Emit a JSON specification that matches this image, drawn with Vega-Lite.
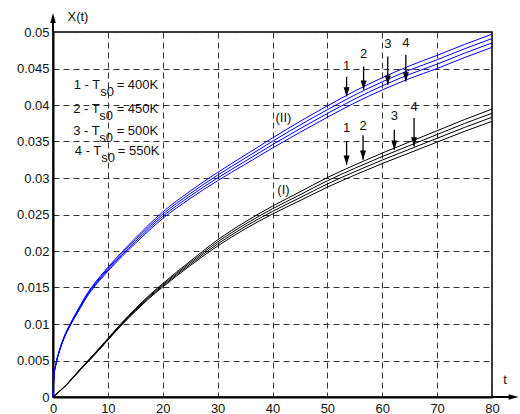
{
  "$schema": "https://vega.github.io/schema/vega-lite/v6.json",
  "width": 439,
  "height": 365,
  "autosize": {"type": "none"},
  "padding": {"left": 53, "top": 32, "right": 28, "bottom": 17},
  "background": "white",
  "config": {
    "view": {"stroke": "black", "strokeWidth": 1.5},
    "font": "Liberation Sans",
    "text": {"font": "Liberation Sans", "fontSize": 13, "color": "#111"},
    "axis": {
      "grid": true, "gridDash": [6, 4], "gridColor": "#333", "gridWidth": 1, "gridOpacity": 1,
      "domainColor": "black", "domainWidth": 2, "ticks": false,
      "labelFont": "Liberation Sans", "labelFontSize": 13, "labelColor": "#111",
      "labelFlush": false, "labelOverlap": false
    },
    "axisX": {"labelPadding": 5},
    "axisY": {"labelPadding": 4}
  },
  "datasets": {
    "blue": [
      {"t": 0, "s1": 0, "s2": 0, "s3": 0, "s4": 0},
      {"t": 0.2, "s1": 0.00297, "s2": 0.00299, "s3": 0.00301, "s4": 0.00303},
      {"t": 0.5, "s1": 0.00436, "s2": 0.00439, "s3": 0.00442, "s4": 0.00445},
      {"t": 1, "s1": 0.00583, "s2": 0.00588, "s3": 0.00593, "s4": 0.00598},
      {"t": 1.5, "s1": 0.00701, "s2": 0.00707, "s3": 0.00713, "s4": 0.00719},
      {"t": 2, "s1": 0.0080, "s2": 0.00807, "s3": 0.00814, "s4": 0.00821},
      {"t": 3, "s1": 0.00957, "s2": 0.00966, "s3": 0.00975, "s4": 0.00984},
      {"t": 4, "s1": 0.01095, "s2": 0.01105, "s3": 0.01115, "s4": 0.01125},
      {"t": 5, "s1": 0.01222, "s2": 0.01234, "s3": 0.01246, "s4": 0.01258},
      {"t": 6, "s1": 0.01351, "s2": 0.01364, "s3": 0.01377, "s4": 0.0139},
      {"t": 7, "s1": 0.01459, "s2": 0.01473, "s3": 0.01487, "s4": 0.01501},
      {"t": 8.5, "s1": 0.01596, "s2": 0.01612, "s3": 0.01628, "s4": 0.01644},
      {"t": 10, "s1": 0.01723, "s2": 0.01741, "s3": 0.01759, "s4": 0.01777},
      {"t": 12.5, "s1": 0.01919, "s2": 0.0194, "s3": 0.01961, "s4": 0.01982},
      {"t": 15, "s1": 0.02104, "s2": 0.02128, "s3": 0.02152, "s4": 0.02176},
      {"t": 20, "s1": 0.02445, "s2": 0.02475, "s3": 0.02505, "s4": 0.02535},
      {"t": 25, "s1": 0.02719, "s2": 0.02753, "s3": 0.02787, "s4": 0.02821},
      {"t": 30, "s1": 0.02963, "s2": 0.03001, "s3": 0.03039, "s4": 0.03077},
      {"t": 35, "s1": 0.03187, "s2": 0.03229, "s3": 0.03271, "s4": 0.03313},
      {"t": 40, "s1": 0.03411, "s2": 0.03457, "s3": 0.03503, "s4": 0.03549},
      {"t": 45, "s1": 0.03625, "s2": 0.03675, "s3": 0.03725, "s4": 0.03775},
      {"t": 50, "s1": 0.03832, "s2": 0.03884, "s3": 0.03936, "s4": 0.03988},
      {"t": 55, "s1": 0.04029, "s2": 0.04083, "s3": 0.04137, "s4": 0.04191},
      {"t": 60, "s1": 0.04206, "s2": 0.04262, "s3": 0.04318, "s4": 0.04374},
      {"t": 65, "s1": 0.04363, "s2": 0.04421, "s3": 0.04479, "s4": 0.04537},
      {"t": 70, "s1": 0.045, "s2": 0.0456, "s3": 0.0462, "s4": 0.0468},
      {"t": 75, "s1": 0.0465, "s2": 0.0471, "s3": 0.0477, "s4": 0.0483},
      {"t": 80, "s1": 0.0479, "s2": 0.0485, "s3": 0.0491, "s4": 0.0497}
    ],
    "black": [
      {"t": 0, "s1": 0, "s2": 0, "s3": 0, "s4": 0},
      {"t": 2.5, "s1": 0.00166, "s2": 0.00169, "s3": 0.00172, "s4": 0.00175},
      {"t": 5, "s1": 0.00373, "s2": 0.00378, "s3": 0.00383, "s4": 0.00388},
      {"t": 7.5, "s1": 0.0057, "s2": 0.00577, "s3": 0.00584, "s4": 0.00591},
      {"t": 10, "s1": 0.00778, "s2": 0.00786, "s3": 0.00794, "s4": 0.00802},
      {"t": 12.5, "s1": 0.00985, "s2": 0.00995, "s3": 0.01005, "s4": 0.01015},
      {"t": 15, "s1": 0.01172, "s2": 0.01184, "s3": 0.01196, "s4": 0.01208},
      {"t": 17.5, "s1": 0.01349, "s2": 0.01363, "s3": 0.01377, "s4": 0.01391},
      {"t": 20, "s1": 0.01506, "s2": 0.01522, "s3": 0.01538, "s4": 0.01554},
      {"t": 25, "s1": 0.018, "s2": 0.0182, "s3": 0.0184, "s4": 0.0186},
      {"t": 30, "s1": 0.02068, "s2": 0.02096, "s3": 0.02124, "s4": 0.02152},
      {"t": 35, "s1": 0.02302, "s2": 0.02334, "s3": 0.02366, "s4": 0.02398},
      {"t": 40, "s1": 0.02506, "s2": 0.02542, "s3": 0.02578, "s4": 0.02614},
      {"t": 45, "s1": 0.0269, "s2": 0.0273, "s3": 0.0277, "s4": 0.0281},
      {"t": 50, "s1": 0.02874, "s2": 0.02918, "s3": 0.02962, "s4": 0.03006},
      {"t": 55, "s1": 0.03041, "s2": 0.03087, "s3": 0.03133, "s4": 0.03179},
      {"t": 60, "s1": 0.03198, "s2": 0.03246, "s3": 0.03294, "s4": 0.03342},
      {"t": 65, "s1": 0.03345, "s2": 0.03395, "s3": 0.03445, "s4": 0.03495},
      {"t": 70, "s1": 0.03492, "s2": 0.03544, "s3": 0.03596, "s4": 0.03648},
      {"t": 75, "s1": 0.03639, "s2": 0.03693, "s3": 0.03747, "s4": 0.03801},
      {"t": 80, "s1": 0.03776, "s2": 0.03832, "s3": 0.03888, "s4": 0.03944}
    ],
    "arrows": [
      {"t": 53.5, "top": 0.04384, "tip": 0.04118, "lab": 0.04529, "n": "1"},
      {"t": 56.6, "top": 0.04529, "tip": 0.04209, "lab": 0.04699, "n": "2"},
      {"t": 61.0, "top": 0.04666, "tip": 0.04278, "lab": 0.04836, "n": "3"},
      {"t": 64.3, "top": 0.04689, "tip": 0.04323, "lab": 0.04849, "n": "4"},
      {"t": 53.5, "top": 0.03501, "tip": 0.03182, "lab": 0.03689, "n": "1"},
      {"t": 56.5, "top": 0.03584, "tip": 0.03251, "lab": 0.03707, "n": "2"},
      {"t": 62.2, "top": 0.03662, "tip": 0.03388, "lab": 0.03844, "n": "3"},
      {"t": 65.8, "top": 0.03822, "tip": 0.03433, "lab": 0.03973, "n": "4"}
    ],
    "legend": [
      {"t1": 8.6, "t2": 8.6, "t3": 11.6, "v": 0.04278, "a": "1 - T", "b": "s0", "c": "= 400K"},
      {"t1": 8.5, "t2": 8.45, "t3": 11.6, "v": 0.03945, "a": "2 - T", "b": "s0", "c": "= 450K"},
      {"t1": 8.5, "t2": 8.45, "t3": 11.6, "v": 0.03648, "a": "3 - T", "b": "s0", "c": "= 500K"},
      {"t1": 8.8, "t2": 8.8, "t3": 11.8, "v": 0.03364, "a": "4 - T", "b": "s0", "c": "= 550K"}
    ]
  },
  "layer": [
    {
      "data": {"name": "blue"},
      "transform": [{"fold": ["s1", "s2", "s3", "s4"], "as": ["k", "v"]}],
      "mark": {"type": "line", "color": "#0000ff", "strokeWidth": 1, "interpolate": "monotone"},
      "encoding": {
        "x": {"field": "t", "type": "quantitative", "scale": {"domain": [0, 80], "nice": false, "zero": false},
              "axis": {"title": null, "values": [0, 10, 20, 30, 40, 50, 60, 70, 80]}},
        "y": {"field": "v", "type": "quantitative", "scale": {"domain": [0, 0.05], "nice": false, "zero": false},
              "axis": {"title": null, "format": "~g", "values": [0, 0.005, 0.01, 0.015, 0.02, 0.025, 0.03, 0.035, 0.04, 0.045, 0.05]}},
        "detail": {"field": "k"}
      }
    },
    {
      "data": {"name": "black"},
      "transform": [{"fold": ["s1", "s2", "s3", "s4"], "as": ["k", "v"]}],
      "mark": {"type": "line", "color": "#000000", "strokeWidth": 1, "interpolate": "monotone"},
      "encoding": {
        "x": {"field": "t", "type": "quantitative", "axis": {"title": null, "values": [0, 10, 20, 30, 40, 50, 60, 70, 80]}},
        "y": {"field": "v", "type": "quantitative", "axis": {"title": null, "format": "~g", "values": [0, 0.005, 0.01, 0.015, 0.02, 0.025, 0.03, 0.035, 0.04, 0.045, 0.05]}},
        "detail": {"field": "k"}
      }
    },
    {
      "data": {"name": "arrows"},
      "mark": {"type": "rule", "color": "black", "strokeWidth": 1.3},
      "encoding": {
        "x": {"field": "t", "type": "quantitative", "axis": {"title": null, "values": [0, 10, 20, 30, 40, 50, 60, 70, 80]}},
        "y": {"field": "top", "type": "quantitative", "axis": {"title": null, "format": "~g", "values": [0, 0.005, 0.01, 0.015, 0.02, 0.025, 0.03, 0.035, 0.04, 0.045, 0.05]}},
        "y2": {"field": "tip"}
      }
    },
    {
      "data": {"name": "arrows"},
      "mark": {"type": "point", "shape": "M0,0L-0.75,-2.3L0.75,-2.3Z", "size": 64, "filled": true, "color": "black", "opacity": 1},
      "encoding": {
        "x": {"field": "t", "type": "quantitative", "axis": {"title": null, "values": [0, 10, 20, 30, 40, 50, 60, 70, 80]}},
        "y": {"field": "tip", "type": "quantitative", "axis": {"title": null, "format": "~g", "values": [0, 0.005, 0.01, 0.015, 0.02, 0.025, 0.03, 0.035, 0.04, 0.045, 0.05]}}
      }
    },
    {
      "data": {"name": "arrows"},
      "mark": {"type": "text", "baseline": "middle", "align": "center"},
      "encoding": {
        "x": {"field": "t", "type": "quantitative", "axis": {"title": null, "values": [0, 10, 20, 30, 40, 50, 60, 70, 80]}},
        "y": {"field": "lab", "type": "quantitative", "axis": {"title": null, "format": "~g", "values": [0, 0.005, 0.01, 0.015, 0.02, 0.025, 0.03, 0.035, 0.04, 0.045, 0.05]}},
        "text": {"field": "n"}
      }
    },
    {
      "data": {"name": "legend"},
      "mark": {"type": "text", "baseline": "middle", "align": "right"},
      "encoding": {
        "x": {"field": "t1", "type": "quantitative", "axis": {"title": null, "values": [0, 10, 20, 30, 40, 50, 60, 70, 80]}},
        "y": {"field": "v", "type": "quantitative", "axis": {"title": null, "format": "~g", "values": [0, 0.005, 0.01, 0.015, 0.02, 0.025, 0.03, 0.035, 0.04, 0.045, 0.05]}},
        "text": {"field": "a"}
      }
    },
    {
      "data": {"name": "legend"},
      "mark": {"type": "text", "baseline": "middle", "align": "left", "dy": 7},
      "encoding": {
        "x": {"field": "t2", "type": "quantitative", "axis": {"title": null, "values": [0, 10, 20, 30, 40, 50, 60, 70, 80]}},
        "y": {"field": "v", "type": "quantitative", "axis": {"title": null, "format": "~g", "values": [0, 0.005, 0.01, 0.015, 0.02, 0.025, 0.03, 0.035, 0.04, 0.045, 0.05]}},
        "text": {"field": "b"}
      }
    },
    {
      "data": {"name": "legend"},
      "mark": {"type": "text", "baseline": "middle", "align": "left"},
      "encoding": {
        "x": {"field": "t3", "type": "quantitative", "axis": {"title": null, "values": [0, 10, 20, 30, 40, 50, 60, 70, 80]}},
        "y": {"field": "v", "type": "quantitative", "axis": {"title": null, "format": "~g", "values": [0, 0.005, 0.01, 0.015, 0.02, 0.025, 0.03, 0.035, 0.04, 0.045, 0.05]}},
        "text": {"field": "c"}
      }
    },
    {
      "data": {"values": [
        {"t": 42, "v": 0.03822, "s": "(II)"},
        {"t": 42, "v": 0.0284, "s": "(I)"},
        {"t": 4.55, "v": 0.0521, "s": "X(t)"},
        {"t": 82.4, "v": 0.00237, "s": "t"}
      ]},
      "mark": {"type": "text", "baseline": "middle", "align": "center"},
      "encoding": {
        "x": {"field": "t", "type": "quantitative", "axis": {"title": null, "values": [0, 10, 20, 30, 40, 50, 60, 70, 80]}},
        "y": {"field": "v", "type": "quantitative", "axis": {"title": null, "format": "~g", "values": [0, 0.005, 0.01, 0.015, 0.02, 0.025, 0.03, 0.035, 0.04, 0.045, 0.05]}},
        "text": {"field": "s"}
      }
    },
    {
      "data": {"values": [{"t": 0, "v": 0.05, "v2": 0.0522}]},
      "mark": {"type": "rule", "color": "black", "strokeWidth": 2},
      "encoding": {
        "x": {"field": "t", "type": "quantitative", "axis": {"title": null, "values": [0, 10, 20, 30, 40, 50, 60, 70, 80]}},
        "y": {"field": "v", "type": "quantitative", "axis": {"title": null, "format": "~g", "values": [0, 0.005, 0.01, 0.015, 0.02, 0.025, 0.03, 0.035, 0.04, 0.045, 0.05]}},
        "y2": {"field": "v2"}
      }
    },
    {
      "data": {"values": [{"t": 80, "t2": 84.2, "v": 0}]},
      "mark": {"type": "rule", "color": "black", "strokeWidth": 2},
      "encoding": {
        "x": {"field": "t", "type": "quantitative", "axis": {"title": null, "values": [0, 10, 20, 30, 40, 50, 60, 70, 80]}},
        "x2": {"field": "t2"},
        "y": {"field": "v", "type": "quantitative", "axis": {"title": null, "format": "~g", "values": [0, 0.005, 0.01, 0.015, 0.02, 0.025, 0.03, 0.035, 0.04, 0.045, 0.05]}}
      }
    },
    {
      "data": {"values": [{"t": 0, "v": 0.0526}]},
      "mark": {"type": "point", "shape": "M0,0L-0.7,2.5L0.7,2.5Z", "size": 64, "filled": true, "color": "black", "opacity": 1},
      "encoding": {
        "x": {"field": "t", "type": "quantitative", "axis": {"title": null, "values": [0, 10, 20, 30, 40, 50, 60, 70, 80]}},
        "y": {"field": "v", "type": "quantitative", "axis": {"title": null, "format": "~g", "values": [0, 0.005, 0.01, 0.015, 0.02, 0.025, 0.03, 0.035, 0.04, 0.045, 0.05]}}
      }
    },
    {
      "data": {"values": [{"t": 84.85, "v": 0}]},
      "mark": {"type": "point", "shape": "M0,0L-2.5,-0.7L-2.5,0.7Z", "size": 64, "filled": true, "color": "black", "opacity": 1},
      "encoding": {
        "x": {"field": "t", "type": "quantitative", "axis": {"title": null, "values": [0, 10, 20, 30, 40, 50, 60, 70, 80]}},
        "y": {"field": "v", "type": "quantitative", "axis": {"title": null, "format": "~g", "values": [0, 0.005, 0.01, 0.015, 0.02, 0.025, 0.03, 0.035, 0.04, 0.045, 0.05]}}
      }
    }
  ]
}
